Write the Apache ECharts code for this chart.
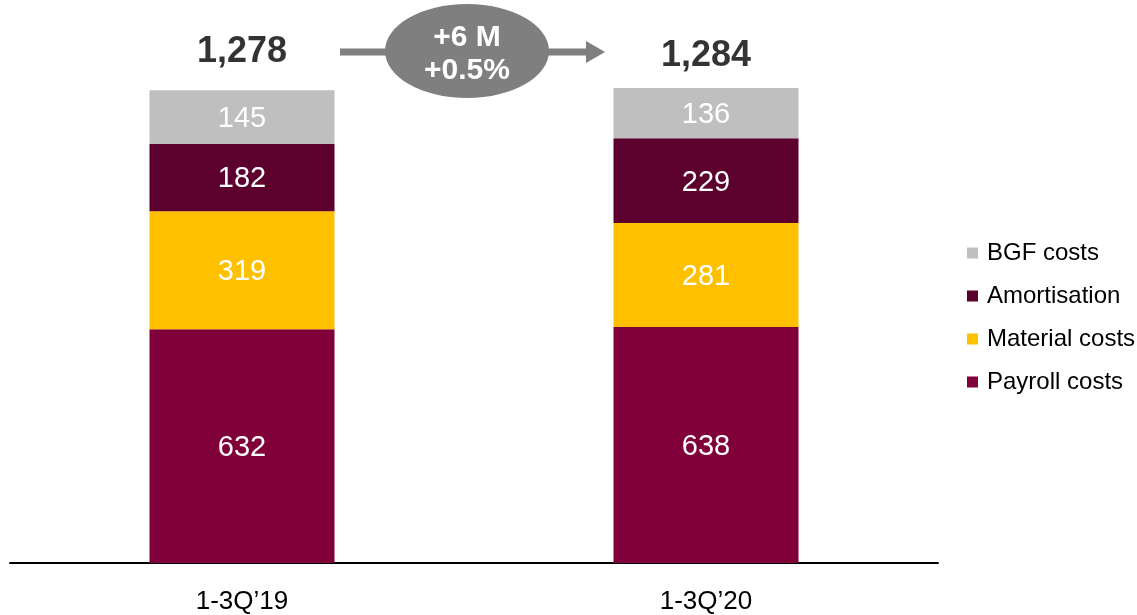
<!DOCTYPE html>
<html>
<head>
<meta charset="utf-8">
<script src="https://cdn.jsdelivr.net/npm/echarts@6/dist/echarts.min.js"></script>
<style>
  html, body { margin: 0; padding: 0; background: #fff; }
  #chart { width: 1137px; height: 615px; }
</style>
</head>
<body>
<div id="chart"></div>
<script>
// Operating cost breakdown, 1-3Q'19 vs 1-3Q'20 (M)
const categories = ['1-3Q\u201919', '1-3Q\u201920'];
const payroll = [632, 638];
const material = [319, 281];
const amortisation = [182, 229];
const bgf = [145, 136];
const changeLines = ['+6 M', '+0.5%'];

const totals = categories.map((_, i) => payroll[i] + material[i] + amortisation[i] + bgf[i]);
const fmt = v => v.toLocaleString('en-US');

const FONT = "'Liberation Sans', Arial, sans-serif";
const colors = {
  payroll: '#80003A',
  material: '#FFC000',
  amortisation: '#5C002D',
  bgf: '#BFBFBF'
};

function stackSeries(name, data, color) {
  return {
    name: name,
    type: 'bar',
    stack: 'cost',
    data: data,
    barWidth: 185,
    itemStyle: { color: color },
    label: {
      show: true,
      position: 'inside',
      color: '#fff',
      fontFamily: FONT,
      fontSize: 29,
      offset: [0, 2]
    },
    emphasis: { disabled: true }
  };
}

const chart = echarts.init(document.getElementById('chart'), null, { renderer: 'canvas' });

chart.setOption({
  animation: false,
  backgroundColor: '#fff',
  grid: { left: 10, right: 199, top: 45, bottom: 52, containLabel: false },
  xAxis: {
    type: 'category',
    data: categories,
    axisLine: { show: true, lineStyle: { color: '#000', width: 2 } },
    axisTick: { show: false },
    axisLabel: { color: '#000', fontFamily: FONT, fontSize: 26, margin: 26 }
  },
  yAxis: {
    type: 'value',
    min: 0,
    max: 1400,
    show: false,
    splitLine: { show: false }
  },
  legend: {
    orient: 'vertical',
    left: 962,
    top: 236,
    itemWidth: 11,
    itemHeight: 11,
    itemGap: 19,
    icon: 'rect',
    data: ['BGF costs', 'Amortisation', 'Material costs', 'Payroll costs'],
    textStyle: { color: '#000', fontFamily: FONT, fontSize: 24, padding: [0, 0, 0, 4] }
  },
  series: [
    stackSeries('Payroll costs', payroll, colors.payroll),
    stackSeries('Material costs', material, colors.material),
    stackSeries('Amortisation', amortisation, colors.amortisation),
    stackSeries('BGF costs', bgf, colors.bgf),
    {
      name: 'Total',
      type: 'scatter',
      data: totals.map((v, i) => ({ value: v, label: { distance: i === 0 ? 20 : 14 } })),
      symbolSize: 0,
      silent: true,
      emphasis: { disabled: true },
      label: {
        show: true,
        position: 'top',
        formatter: p => fmt(p.value),
        color: '#000',
        fontFamily: FONT,
        fontWeight: 'bold',
        fontSize: 36
      }
    }
  ],
  graphic: [
    {
      type: 'line',
      shape: { x1: 340, y1: 52, x2: 590, y2: 52 },
      style: { stroke: '#7F7F7F', lineWidth: 7 },
      silent: true
    },
    {
      type: 'polygon',
      shape: { points: [[586, 41], [605, 52], [586, 63]] },
      style: { fill: '#7F7F7F' },
      silent: true
    },
    {
      type: 'ellipse',
      shape: { cx: 467, cy: 51, rx: 82, ry: 47 },
      style: { fill: '#7F7F7F' },
      silent: true
    },
    {
      type: 'text',
      x: 467,
      y: 54,
      style: {
        text: changeLines.join('\n'),
        fill: '#fff',
        font: "bold 30px 'Liberation Sans', Arial, sans-serif",
        lineHeight: 33,
        align: 'center',
        verticalAlign: 'middle'
      },
      silent: true
    }
  ]
});
</script>
</body>
</html>
